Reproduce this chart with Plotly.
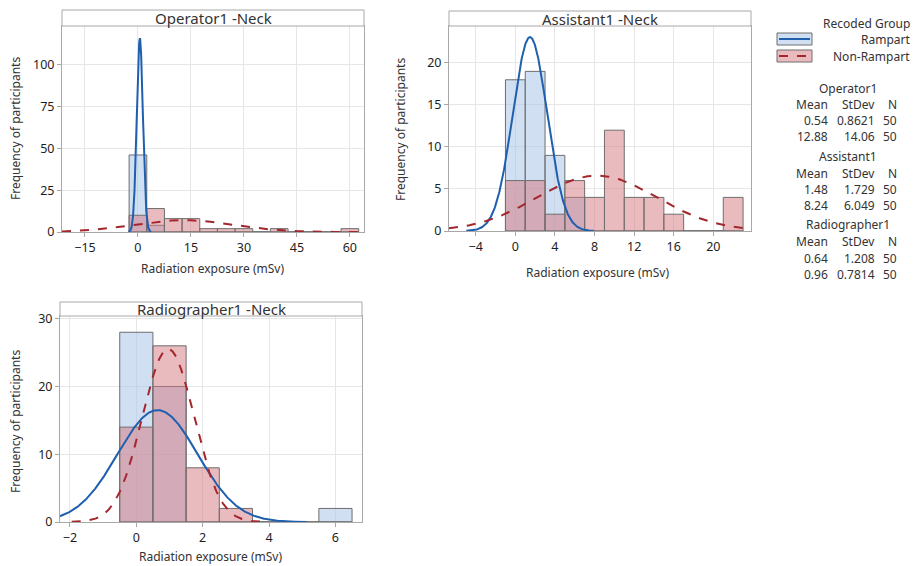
import numpy as np
import plotly.graph_objects as go

W, H = 914, 566

# ---------------- data ----------------
panels = ["Operator1", "Assistant1", "Radiographer1"]
bin_width = [5, 2, 1]

op_bins = [0, 5, 10, 15, 20, 25, 30, 35, 40, 45, 50, 55, 60]
op_ramp = [46, 4, 0, 0, 0, 0, 0, 0, 0, 0, 0, 0, 0]
op_nonr = [10, 14, 8, 8, 2, 2, 2, 0, 2, 0, 0, 0, 2]

as_bins = [0, 2, 4, 6, 8, 10, 12, 14, 16, 18, 20, 22]
as_ramp = [18, 19, 9, 4, 0, 0, 0, 0, 0, 0, 0, 0]
as_nonr = [6, 6, 2, 6, 4, 12, 4, 4, 2, 0, 0, 4]

ra_bins = [0, 1, 2, 3, 4, 5, 6]
ra_ramp = [28, 20, 0, 0, 0, 0, 2]
ra_nonr = [14, 26, 8, 2, 0, 0, 0]

# summary statistics (Rampart, Non-Rampart)
mean_ramp = [0.54, 1.48, 0.64]
sd_ramp = [0.8621, 1.729, 1.208]
mean_nonr = [12.88, 8.24, 0.96]
sd_nonr = [14.06, 6.049, 0.7814]
n_ramp = [50, 50, 50]
n_nonr = [50, 50, 50]

mean_lbl_ramp = ["0.54", "1.48", "0.64"]
sd_lbl_ramp = ["0.8621", "1.729", "1.208"]
mean_lbl_nonr = ["12.88", "8.24", "0.96"]
sd_lbl_nonr = ["14.06", "6.049", "0.7814"]

x_ticks = [[-15, 0, 15, 30, 45, 60], [-4, 0, 4, 8, 12, 16, 20], [-2, 0, 2, 4, 6]]
y_ticks = [[0, 25, 50, 75, 100], [0, 5, 10, 15, 20], [0, 10, 20, 30]]
x_ranges = [[-21.5, 64], [-6.7, 23.8], [-2.3, 6.8]]
y_ranges = [[0, 123], [0, 24.4], [0, 30.4]]

bins = [op_bins, as_bins, ra_bins]
ramp = [op_ramp, as_ramp, ra_ramp]
nonr = [op_nonr, as_nonr, ra_nonr]

# ---------------- style ----------------
FONT = "Noto Sans"
BLUE_FILL = "rgba(170,196,232,0.55)"
RED_FILL = "rgba(214,120,126,0.50)"
BLUE_LINE = "#1f5fae"
RED_LINE = "#a3262c"
EDGE = "#6e6e6e"
FRAME = "#a8a8a8"
GRID = "#e6e6e6"

# pixel boxes of the plot areas (left, right, top, bottom) and title strips (top)
boxes = [(62, 364, 26, 232), (449, 751, 26, 231), (60, 362, 316, 522)]
strip_tops = [10, 11, 302]

def px_x(v):
    return v / W

def px_y(v):
    return 1 - v / H

def normal_curve(mu, sd, n, bw, lo, hi):
    a = max(lo, mu - 3.72 * sd)
    b = min(hi, mu + 3.72 * sd)
    xs = np.linspace(a, b, 400)
    ys = n * bw / (sd * np.sqrt(2 * np.pi)) * np.exp(-0.5 * ((xs - mu) / sd) ** 2)
    return xs, ys

fig = go.Figure()
layout = dict(
    width=W, height=H, margin=dict(l=0, r=0, t=0, b=0, pad=0, autoexpand=False),
    autosize=False,
    plot_bgcolor="white", paper_bgcolor="white",
    barmode="overlay", showlegend=False,
    font=dict(family=FONT, size=12, color="#222"),
)
shapes = []
annotations = []

for i in range(3):
    sfx = "" if i == 0 else str(i + 1)
    xa, ya = "x" + sfx, "y" + sfx
    l, r, t, b = boxes[i]
    bw = bin_width[i]
    fig.add_trace(go.Bar(
        x=bins[i], y=ramp[i], width=bw, xaxis=xa, yaxis=ya,
        marker=dict(color=BLUE_FILL, line=dict(color=EDGE, width=1)),
    ))
    fig.add_trace(go.Bar(
        x=bins[i], y=nonr[i], width=bw, xaxis=xa, yaxis=ya,
        marker=dict(color=RED_FILL, line=dict(color=EDGE, width=1)),
    ))
    xs, ys = normal_curve(mean_ramp[i], sd_ramp[i], n_ramp[i], bw, *x_ranges[i])
    fig.add_trace(go.Scatter(x=xs, y=ys, mode="lines", xaxis=xa, yaxis=ya,
                             line=dict(color=BLUE_LINE, width=2)))
    xs, ys = normal_curve(mean_nonr[i], sd_nonr[i], n_nonr[i], bw, *x_ranges[i])
    fig.add_trace(go.Scatter(x=xs, y=ys, mode="lines", xaxis=xa, yaxis=ya,
                             line=dict(color=RED_LINE, width=2, dash="dash")))

    layout["xaxis" + sfx] = dict(
        domain=[px_x(l), px_x(r)], anchor=ya, range=x_ranges[i], automargin=False,
        tickvals=x_ticks[i], showgrid=True, gridcolor=GRID, zeroline=False,
        showline=True, linecolor=FRAME, mirror=True, linewidth=1,
        ticks="outside", ticklen=4, tickcolor=FRAME,
        tickfont=dict(size=12.5, color="#1e1e1e"),
    )
    layout["yaxis" + sfx] = dict(
        domain=[px_y(b), px_y(t)], anchor=xa, range=y_ranges[i], automargin=False,
        tickvals=y_ticks[i], showgrid=True, gridcolor=GRID, zeroline=False,
        showline=True, linecolor=FRAME, mirror=True, linewidth=1,
        ticks="outside", ticklen=4, tickcolor=FRAME,
        tickfont=dict(size=12.5, color="#1e1e1e"),
    )
    # title strip
    shapes.append(dict(type="rect", xref="paper", yref="paper",
                       x0=px_x(l), x1=px_x(r), y0=px_y(t), y1=px_y(strip_tops[i]),
                       fillcolor="white", line=dict(color=FRAME, width=1)))
    annotations.append(dict(text=panels[i] + " -Neck", xref="paper", yref="paper",
                            x=px_x((l + r) / 2), y=px_y((t + strip_tops[i]) / 2),
                            xanchor="center", yanchor="middle", showarrow=False,
                            font=dict(size=15, color="#333")))

# axis titles
ytitle_pos = [(15, 129), (401, 130), (15, 422)]
xtitle_pos = [(212, 268), (597, 272), (210, 556)]
for (xp, yp) in ytitle_pos:
    annotations.append(dict(text="Frequency of participants", xref="paper", yref="paper",
                            x=px_x(xp), y=px_y(yp), textangle=-90, showarrow=False,
                            xanchor="center", yanchor="middle", font=dict(size=12, color="#333")))
for (xp, yp) in xtitle_pos:
    annotations.append(dict(text="Radiation exposure (mSv)", xref="paper", yref="paper",
                            x=px_x(xp), y=px_y(yp), showarrow=False,
                            xanchor="center", yanchor="middle", font=dict(size=12, color="#333")))

# legend
LEG_FS = 12
annotations.append(dict(text="Recoded Group", xref="paper", yref="paper", x=px_x(912), y=px_y(24),
                        xanchor="right", yanchor="middle", showarrow=False,
                        font=dict(size=LEG_FS, color="#333")))
leg_rows = [("Rampart", BLUE_FILL, BLUE_LINE, "solid", 33, 45),
            ("Non-Rampart", RED_FILL, RED_LINE, "dash", 50, 62)]
for name, fill, lc, dash, y0, y1 in leg_rows:
    shapes.append(dict(type="rect", xref="paper", yref="paper",
                       x0=px_x(777), x1=px_x(812), y0=px_y(y1), y1=px_y(y0),
                       fillcolor=fill, line=dict(color=EDGE, width=1)))
    shapes.append(dict(type="line", xref="paper", yref="paper",
                       x0=px_x(779), x1=px_x(810), y0=px_y((y0 + y1) / 2), y1=px_y((y0 + y1) / 2),
                       line=dict(color=lc, width=2, dash=dash)))
    annotations.append(dict(text=name, xref="paper", yref="paper", x=px_x(912),
                            y=px_y((y0 + y1) / 2), xanchor="right", yanchor="middle",
                            showarrow=False, font=dict(size=LEG_FS, color="#333")))

# stats tables
col_right = [830, 877, 899]
block_top = [88, 157, 225]
for i in range(3):
    y = block_top[i]
    annotations.append(dict(text=panels[i], xref="paper", yref="paper", x=px_x(848), y=px_y(y),
                            xanchor="center", yanchor="middle", showarrow=False,
                            font=dict(size=LEG_FS, color="#333")))
    rows = [["Mean", "StDev", "N"],
            [mean_lbl_ramp[i], sd_lbl_ramp[i], str(n_ramp[i])],
            [mean_lbl_nonr[i], sd_lbl_nonr[i], str(n_nonr[i])]]
    for k, row in enumerate(rows):
        for c, txt in enumerate(row):
            annotations.append(dict(text=txt, xref="paper", yref="paper",
                                    x=px_x(col_right[c]), y=px_y(y + 1 + 16 * (k + 1)),
                                    xanchor="right", yanchor="middle", showarrow=False,
                                    font=dict(size=LEG_FS, color="#333")))

layout["shapes"] = shapes
layout["annotations"] = annotations
fig.update_layout(**layout)
fig.write_html("out.html", config={"displayModeBar": False},
               post_script="document.body.style.margin='0px';document.body.style.padding='0px';")
